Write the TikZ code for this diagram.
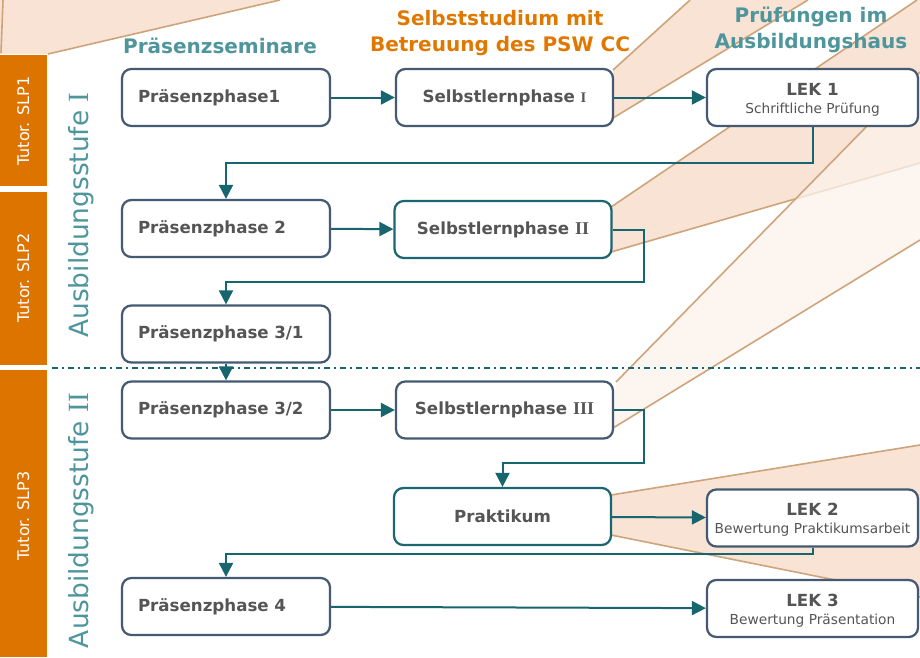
\documentclass[tikz,border=0pt]{standalone}
\usepackage{fontspec}
\setmainfont{DejaVu Sans}
\newfontfamily\serI{Liberation Serif}
\usetikzlibrary{arrows.meta,calc}
\definecolor{peach}{HTML}{F8E3D4}
\definecolor{lightpeach}{HTML}{FCF2EC}
\definecolor{wedgeline}{HTML}{CFA47A}
\definecolor{barorange}{HTML}{DE7400}
\definecolor{headorange}{HTML}{E07800}
\definecolor{headteal}{HTML}{4F969C}
\definecolor{arrowteal}{HTML}{17656E}
\definecolor{boxborder}{HTML}{455A72}
\definecolor{boxteal}{HTML}{1B6670}
\definecolor{txtgray}{HTML}{555555}
\newlength\pxu
\setlength\pxu{0.75pt}
\tikzset{
  wline/.style={draw=wedgeline, line width=1.2pt},
  box/.style={draw=boxborder, fill=white, line width=1.7pt, rounded corners=7pt,
    minimum height=57\pxu, text=txtgray, font=\fontsize{12.5}{15}\selectfont\bfseries, inner sep=0pt},
  pbox/.style={box, text width=176\pxu, align=left, inner xsep=16\pxu},
  sbox/.style={box, minimum width=217\pxu, align=center},
  lbox/.style={box, minimum width=211\pxu},
  ltitle/.style={text=txtgray, font=\fontsize{12.5}{15}\selectfont\bfseries, inner sep=0pt},
  lsub/.style={text=txtgray, font=\fontsize{10.3}{12}\selectfont, inner sep=0pt},
  head/.style={font=\fontsize{15}{19}\selectfont\bfseries, align=center, inner sep=0pt},
  bar/.style={fill=barorange, draw=none},
  tutor/.style={text=white, font=\fontsize{12}{14}\selectfont, rotate=90, anchor=base, inner sep=0pt},
  stufe/.style={text=headteal, font=\fontsize{19.8}{22}\selectfont, rotate=90, anchor=base, inner sep=0pt},
  arr/.style={draw=arrowteal, line width=1.5pt, -{Triangle[length=10.5pt,width=10.5pt]}},
  sep/.style={draw=arrowteal, line width=1.3pt, dash pattern=on 4.5pt off 3pt on 1.5pt off 3pt},
}
\begin{document}
\begin{tikzpicture}[x=0.75pt,y=-0.75pt]
\useasboundingbox (0,0) rectangle (920,657);
\fill[white] (0,0) rectangle (920,657);

% background wedges
\fill[peach] (0,0) -- (280,0) -- (48,54) -- (0,54) -- cycle;
\draw[wline] (280,0) -- (48,54);
\draw[wline] (3,0) -- (1,53);

\fill[peach] (613,70) -- (690,0) -- (808,0) -- (613,118) -- cycle;
\draw[wline] (613,70) -- (690,0);
\draw[wline] (613,118) -- (808,0);

\fill[peach] (611,207) -- (917,0) -- (920,0) -- (920,163) -- (611,252) -- cycle;
\draw[wline] (611,207) -- (917,0);
\draw[wline] (611,252) -- (920,163);

\fill[lightpeach, fill opacity=0.75] (616,382) -- (920,72) -- (920,240) -- (613,428) -- cycle;
\draw[wline] (616,382) -- (920,72);
\draw[wline] (613,428) -- (920,240);

\fill[peach] (611,495) -- (920,445) -- (920,597) -- (611,535) -- cycle;
\draw[wline] (611,495) -- (920,445);
\draw[wline] (611,535) -- (920,597);

% separator
\draw[sep] (52,368) -- (920,368);

% orange bars
\fill[bar] (0,55) rectangle (47,186);
\fill[bar] (0,192) rectangle (47,365);
\fill[bar] (0,370) rectangle (47,657);
\node[tutor] (t1) at (29,121) {Tutor. SLP1};
\node[tutor] (t2) at (29,278) {Tutor. SLP2};
\node[tutor] (t3) at (29,516) {Tutor. SLP3};

\node[stufe] (st1) at (88,215) {Ausbildungsstufe {\serI\fontsize{22}{22}\selectfont I}};
\node[stufe] (st2) at (88,520.5) {Ausbildungsstufe {\serI\fontsize{22}{22}\selectfont II}};

% headings
\node[head, text=headteal] (h1) at (220,46) {Präsenzseminare};
\node[head, text=headorange] (h2) at (500,33) {Selbststudium mit\\Betreuung des PSW CC};
\node[head, text=headteal] (h3) at (811,30) {Prüfungen im\\Ausbildungshaus};

% boxes
\node[pbox] (p1) at (226,97.5) {Präsenzphase1};
\node[sbox] (s1) at (504.5,97.5) {Selbstlernphase {\serI\bfseries\fontsize{11}{13}\selectfont I}};
\node[lbox] (l1) at (812.5,97.5) {};
\node[ltitle] (l1t) at ($(l1)+(0,-8.5)$) {LEK 1};
\node[lsub] (l1s) at ($(l1)+(0,12)$) {Schriftliche Prüfung};

\node[pbox] (p2) at (226,228.5) {Präsenzphase 2};
\node[sbox, draw=boxteal] (s2) at (503,229.5) {Selbstlernphase {\serI\bfseries\fontsize{13.5}{15}\selectfont II}};

\node[pbox] (p31) at (226,334) {Präsenzphase 3/1};
\node[pbox] (p32) at (226,410) {Präsenzphase 3/2};
\node[sbox] (s3) at (504.5,410) {Selbstlernphase {\serI\bfseries\fontsize{13.5}{15}\selectfont III}};

\node[sbox, draw=boxteal] (pr) at (502.5,516.5) {Praktikum};
\node[lbox] (l2) at (812.5,518) {};
\node[ltitle] (l2t) at ($(l2)+(0,-8.5)$) {LEK 2};
\node[lsub] (l2s) at ($(l2)+(0,12)$) {Bewertung Praktikumsarbeit};

\node[pbox] (p4) at (226,606.5) {Präsenzphase 4};
\node[lbox] (l3) at (812.5,608.5) {};
\node[ltitle] (l3t) at ($(l3)+(0,-8.5)$) {LEK 3};
\node[lsub] (l3s) at ($(l3)+(0,12)$) {Bewertung Präsentation};

% connectors
\draw[arr] (p1) -- (s1);
\draw[arr] (s1) -- (l1);
\draw[arr] (l1.south) -- ++(0,36) -| (p2.north);
\draw[arr] (p2) -- (s2);
\draw[arr] (s2.east) -- ++(31,0) -- ++(0,52) -| (p31.north);
\draw[arr] (p31) -- (p32);
\draw[arr] (p32) -- (s3);
\draw[arr] (s3.east) -- ++(30,0) -- ++(0,53) -| (pr.north);
\draw[arr] (pr) -- (l2);
\draw[arr] (l2.south) -- ++(0,6) -| (p4.north);
\draw[arr] (p4) -- (l3);
\end{tikzpicture}
\end{document}
